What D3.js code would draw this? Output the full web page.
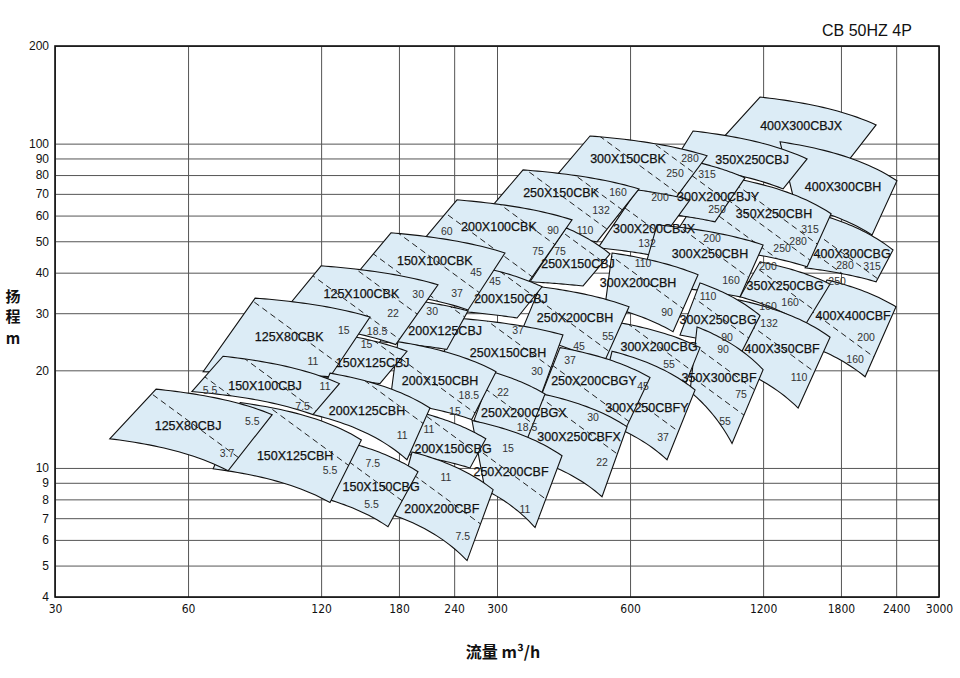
<!DOCTYPE html>
<html><head><meta charset="utf-8">
<script src="https://cdn.jsdelivr.net/npm/d3@7"></script>
<style>body{margin:0;background:#fff}svg{display:block}</style>
</head><body>
<svg id="c" width="960" height="678"></svg>
<script>
const models=["125X80CBJ","150X100CBJ","150X125CBH","125X80CBK","125X100CBK","150X125CBJ","200X125CBH","150X150CBG","200X200CBF","150X100CBK","200X125CBJ","200X150CBH","200X150CBG","250X200CBF","200X100CBK","200X150CBJ","250X150CBH","250X200CBGX","300X250CBFX","250X150CBK","250X150CBJ","250X200CBH","250X200CBGY","300X250CBFY","300X150CBK","300X200CBJX","300X200CBH","300X200CBG","350X300CBF","350X250CBJ","300X200CBJY","300X250CBH","300X250CBG","400X350CBF","400X300CBJX","400X300CBH","350X250CBH","350X250CBG","400X300CBG","400X400CBF"];
// corners [Q m3/h, H m]
const topLeft=[[50.8,17.5],[72,22.1],[78.7,15.9],[85.1,33.4],[120,42],[135.9,25.7],[125.7,19.6],[141,11.9],[192.7,11.2],[172.7,53.1],[190.7,33],[179,24.5],[206,14.7],[263.4,14],[243.6,67.1],[294,40.8],[241,29],[292.3,19.8],[356.4,17.2],[343.6,83],[429.8,55],[375.4,36.2],[416.6,23.5],[546.3,22.9],[487.1,105.6],[622.3,72],[546.3,46],[554.9,28.2],[850.6,27.2],[833,109.4],[863.9,87.2],[690.6,56.2],[863.9,37.2],[1053,33],[1181,139.2],[1311,101.3],[924.6,80.1],[1181,43.2],[1675,59.5],[1675,38]];
const topRight=[[93,14.6],[132,18.2],[148,12.2],[154.8,29.2],[220.6,36.7],[187.7,22.9],[211.6,15.3],[198.8,9.73],[294,8.57],[312.7,46],[258,30.5],[298.5,19.8],[283,12.3],[421,10.9],[443.5,58.2],[379.4,36.2],[423,25.7],[385.3,16.9],[590.7,13.4],[628.8,72.5],[540.6,45.7],[596.8,31.4],[665.8,19],[841.8,17.4],[896,91.7],[820.1,67.1],[855,39.4],[863.9,23.5],[1200,20.1],[1509,89.7],[1092,78.4],[1200,48.7],[1181,29.5],[1701,25.3],[2162,114.2],[2410,76.8],[1710,60.8],[1701,36.9],[2361,47],[2398,31.4]];
const bottomRight=[[73.9,9.8],[115,14.6],[125.7,7.82],[125.7,19.1],[177,24],[163,18.2],[187.7,10.6],[170,6.59],[256.7,5.18],[258,30.7],[231,23.2],[263,14.1],[260.7,10],[365.8,6.55],[352.6,37.2],[333,29],[377.4,16.8],[347,11.8],[518.5,8.15],[505,49.8],[469.7,36.4],[521.2,20.8],[584.5,13.1],[727.5,10.6],[712.5,60.3],[665.8,45.4],[750.6,26.3],[778.3,16.5],[1020.6,11.9],[1331.7,72.5],[934,57.4],[1064,33.7],[1075,22.9],[1440,15.3],[1839,86],[2117,52.3],[1509,41.7],[1493.5,27.6],[2162,37.5],[2041.5,19.1]];
const bottomLeft=[[39.9,12.3],[61.2,17.2],[68.4,9.94],[64.9,19.8],[94.4,28.2],[120.6,19],[115.1,14.6],[120.6,8.1],[176,7.13],[135.9,35.9],[163,24.5],[171.8,16],[188.7,11],[281.8,8.57],[185.7,43.2],[254,30.3],[222.9,20.8],[266,14],[338,10.97],[260.7,53.4],[356.4,37.5],[338.2,25.7],[377.4,16.7],[500,14.1],[375.4,69.5],[507.8,47.7],[526.7,31.6],[513.1,21.3],[820.1,17.2],[746.7,86],[719.9,60.8],[631.9,36.7],[778.3,25.7],[934,21.3],[919.8,95.7],[1417.5,64.8],[731.3,48.7],[1064,33.7],[1493.5,41.4],[1381,24.9]];
const nameAt=[[60,13.5],[89.6,18],[104.8,10.9],[101.6,25.5],[148,34.4],[157,21.1],[152.4,15],[164,8.75],[225,7.5],[217,43.5],[229,26.6],[223,18.6],[238.6,11.5],[322.7,9.73],[303,55.4],[322.7,33.2],[317.7,22.7],[345,14.8],[460,12.5],[418.8,70.5],[457.6,42.6],[450.5,29],[497,18.6],[655,15.4],[593.8,89.7],[679.8,54.6],[625.6,37.2],[697.8,23.7],[953.9,19],[1133,89.1],[949,68.5],[910,46],[949,28.6],[1325,23.4],[1463,113.4],[1820,73.6],[1270,60.8],[1345.6,36.4],[1908,46],[1918,29.5]];
// motor power boundaries, Q*H constant
const powerLines=[[840],[1250,1750],[1410],[2750],[5900,4500],[3900],[2800],[1450],[1850],[9500,7200],[7400],[3950],[3000],[3100],[14000,19800],[12300],[8100],[4950],[6200],[36000,29000],[22500],[12300],[8300],[10000],[68000,54000],[37000],[24500],[16500],[15800,20000],[],[66000],[43000],[28000],[31000],[],[],[78000,67000,57000],[48000],[83500,72000],[47000]];
const kwLabels=[["5.5",83.8,13.9],["3.7",73.5,11.1],["5.5",67.3,17.4],["7.5",109,15.5],["11",122.5,17.8],["5.5",125.7,9.8],["15",135,26.5],["11",115,21.3],["30",199,34.2],["22",174.5,29.9],["18.5",160.6,26.3],["15",152,24],["11",183,12.6],["7.5",157,10.3],["5.5",156,7.71],["11",230,9.33],["7.5",251,6.14],["45",269,40.2],["37",243.6,34.6],["30",214,30.5],["18.5",259,16.8],["15",241,14.9],["11",210.5,13.2],["15",317.7,11.5],["11",347,7.44],["60",231,53.8],["90",401.8,54.2],["75",371.6,46.4],["45",297,37.7],["37",334.7,26.6],["30",369.7,19.8],["22",309.5,17.05],["18.5",350.8,13.3],["30",494.8,14.36],["22",518.5,10.38],["160",563.6,71],["132",515.8,62.5],["110",474.6,54.2],["75",416.6,46.7],["55",535,25.5],["45",460,23.7],["37",438.9,21.4],["45",641.9,17.9],["37",712.5,12.4],["280",820.1,90.4],["250",758.4,81.2],["200",701.4,68.5],["132",655.4,49.4],["110",641.9,42.9],["90",727.5,30.1],["55",735,20.8],["75",1069.5,16.9],["55",984.2,13.9],["90",974,23.2],["315",896,80.7],["250",944,62.6],["200",919.8,51.2],["160",1015,38],["110",900.7,33.7],["90",994.6,25.2],["160",1231,31.4],["132",1238,28],["110",1447,19],["315",1532,54.6],["280",1440,49.8],["250",1324.8,47.4],["200",1231,41.7],["160",1381,32.5],["280",1839,42.2],["315",2117,41.7],["250",1764,37.7],["200",2052,25.2],["160",1938,21.6]];
const xTicks=[30,60,120,180,240,300,600,1200,1800,2400,3000];
const yTicks=[4,5,6,7,8,9,10,20,30,40,50,60,70,80,90,100,200];
const title="CB 50HZ 4P", xTitle="流量 m³/h", yTitle=["扬","程","m"];

const svg=d3.select('#c');
const x=d3.scaleLog().domain([30,3000]).range([55,939]);
const y=d3.scaleLog().domain([4,200]).range([597,46]);
const W=x(3000)-x(30), H=y(4)-y(200);

const gx=svg.append('g').attr('transform',`translate(0,${y(4)})`)
  .call(d3.axisBottom(x).tickValues(xTicks).tickFormat(d3.format('d')).tickSize(-H).tickPadding(7));
gx.select('.domain').remove();
gx.selectAll('line').attr('stroke','#555').attr('stroke-width',1);
gx.selectAll('text').attr('font-family','Liberation Sans Narrow, DejaVu Sans Condensed, sans-serif').attr('font-size',12).attr('fill','#111');
const gy=svg.append('g').attr('transform',`translate(${x(30)},0)`)
  .call(d3.axisLeft(y).tickValues(yTicks).tickFormat(d3.format('d')).tickSize(-W).tickPadding(6));
gy.select('.domain').remove();
gy.selectAll('line').attr('stroke','#555').attr('stroke-width',1);
gy.selectAll('text').attr('font-family','Liberation Sans, Arial, sans-serif').attr('font-size',12).attr('fill','#111');

function edge(p1,p2,n){
  const k=(p1[1]-p2[1])/(p2[0]*p2[0]-p1[0]*p1[0]);
  const h0=p1[1]+k*p1[0]*p1[0];
  const pts=[];
  for(let i=0;i<=n;i++){const q=p1[0]*Math.pow(p2[0]/p1[0],i/n);pts.push([x(q),y(h0-k*q*q)]);}
  return pts;
}
function shape(i){
  const top=edge(topLeft[i],topRight[i],24);
  const bot=edge(bottomLeft[i],bottomRight[i],24).reverse();
  return d3.line()(top.concat(bot))+'Z';
}
const key=i=>x(topLeft[i][0])-y(topLeft[i][1]);
const order=d3.range(models.length).sort((a,b)=>key(b)-key(a));
const defs=svg.append('defs');
const gr=svg.append('g');
order.forEach(i=>{
  const d=shape(i);
  defs.append('clipPath').attr('id','cl'+i).append('path').attr('d',d);
  gr.append('path').attr('d',d).attr('fill','#dcecf6');
  const qs=[topLeft[i][0],topRight[i][0],bottomRight[i][0],bottomLeft[i][0]];
  const q0=d3.min(qs)/1.5,q1=d3.max(qs)*1.5;
  powerLines[i].forEach(C=>{
    gr.append('line').attr('clip-path',`url(#cl${i})`)
      .attr('x1',x(q0)).attr('y1',y(C/q0)).attr('x2',x(q1)).attr('y2',y(C/q1))
      .attr('stroke','#222').attr('stroke-width',1).attr('stroke-dasharray','6,4');
  });
  gr.append('path').attr('d',d).attr('fill','none').attr('stroke','#111').attr('stroke-width',1.1);
});

svg.append('rect').attr('x',x(30)).attr('y',y(200)).attr('width',W).attr('height',H)
  .attr('fill','none').attr('stroke','#111').attr('stroke-width',1.6);

svg.append('g').selectAll('text').data(kwLabels).join('text')
  .attr('x',d=>x(d[1])).attr('y',d=>y(d[2])).attr('dy','0.35em').attr('text-anchor','middle')
  .attr('font-family','Liberation Sans, Arial, sans-serif').attr('font-size',10.5).attr('fill','#333').text(d=>d[0]);
svg.append('g').selectAll('text').data(models).join('text')
  .attr('x',(d,i)=>x(nameAt[i][0])).attr('y',(d,i)=>y(nameAt[i][1])).attr('dy','0.36em').attr('text-anchor','middle')
  .attr('font-family','Liberation Sans, Arial, sans-serif').attr('font-size',12.5).attr('fill','#111')
  .attr('stroke','#111').attr('stroke-width',0.25).text(d=>d);

svg.append('text').attr('x',822).attr('y',36).attr('font-family','Liberation Sans, Arial, sans-serif')
  .attr('font-size',16).attr('fill','#111').text(title);
svg.append('text').attr('x',503).attr('y',658).attr('text-anchor','middle')
  .attr('font-family','Noto Sans CJK SC, sans-serif').attr('font-weight','bold').attr('font-size',16).attr('fill','#111').text(xTitle);
svg.append('g').selectAll('text').data(yTitle).join('text')
  .attr('x',13).attr('y',(d,i)=>[302,322,344][i]).attr('text-anchor','middle')
  .attr('font-family','Noto Sans CJK SC, sans-serif').attr('font-weight','bold').attr('font-size',15).attr('fill','#111').text(d=>d);
</script>
</body></html>
